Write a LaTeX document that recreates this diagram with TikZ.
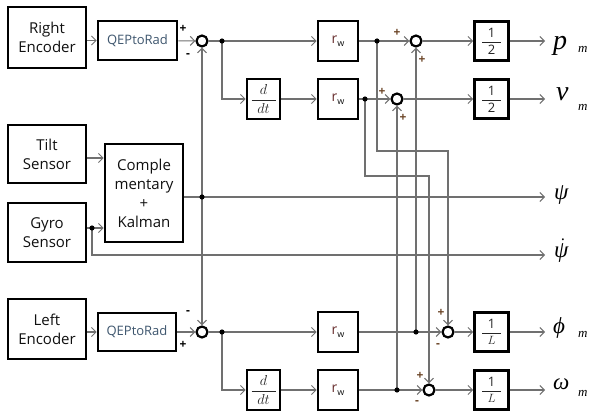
\documentclass[tikz,border=0pt]{standalone}
\usepackage{amsmath}
\usepackage{fontspec}
\setmainfont{Open Sans}
\newfontfamily\tnr{Liberation Serif}
\usetikzlibrary{arrows.meta}
\definecolor{wirec}{HTML}{707070}
\definecolor{qepc}{HTML}{3E566E}
\definecolor{rwc}{HTML}{6A3030}
\definecolor{sgnc}{HTML}{6B4426}
\definecolor{txtc}{HTML}{101010}
\newcommand\fracnum[3]{$\displaystyle\genfrac{}{}{0.7pt}{}{\makebox[#3]{#1}}{\makebox[#3]{#2}}$}
\newcommand\rwtext{\textcolor{rwc}{\fontsize{14}{14}\selectfont r}\raisebox{-3pt}{\fontsize{9}{9}\selectfont w}}
\begin{document}
\begin{tikzpicture}[x=1pt,y=-1pt,
  blk/.style={draw=black, line width=2.6pt, fill=white, inner sep=0pt, align=center,
    text=txtc, font=\fontsize{15}{19}\selectfont},
  qep/.style={text=qepc, font=\fontsize{13}{15}\selectfont},
  gainbox/.style={blk, minimum width=34pt, minimum height=39pt, font=\fontsize{13}{15}\selectfont, text=black!85},
  derbox/.style={blk, minimum width=33pt, minimum height=40pt, font=\fontsize{14}{16}\selectfont, text=black!85},
  rwbox/.style={blk, minimum width=40pt, minimum height=40pt},
  wire/.style={draw=wirec, line width=1.1pt},
  arr/.style={wire, -{Straight Barb[length=4.5pt,width=9pt,line width=1pt]}},
  sumc/.style={circle, draw=black, line width=2.2pt, fill=white, minimum size=11pt, inner sep=0pt},
  sg/.style={inner sep=0pt, font=\fontsize{12}{12}\selectfont\bfseries, text=black},
  sgr/.style={sg, text=sgnc},
  outl/.style={inner sep=0pt, anchor=base west, font=\tnr\itshape\fontsize{28}{28}\selectfont},
  outg/.style={inner sep=0pt, anchor=base west, font=\tnr\itshape\fontsize{23}{23}\selectfont},
  subl/.style={inner sep=0pt, anchor=base west, font=\tnr\itshape\fontsize{13}{13}\selectfont}]
\useasboundingbox (0,0) rectangle (590,414);

% sensor blocks
\node[blk, minimum width=78pt, minimum height=61pt] (RE) at (47,37.5) {Right\\Encoder};
\node[blk, minimum width=78pt, minimum height=58pt] (TS) at (47,154) {Tilt\\Sensor};
\node[blk, minimum width=78pt, minimum height=59pt] (GS) at (47,232.5) {Gyro\\Sensor};
\node[blk, minimum width=78pt, minimum height=60pt] (LE) at (47,329) {Left\\Encoder};
\node[blk, minimum width=78pt, minimum height=98pt] (KF) at (144,193) {Comple\\mentary\\+\\Kalman};
\node[blk, qep, minimum width=79pt, minimum height=39pt] (Q1) at (137.5,40.5) {QEPtoRad};
\node[blk, qep, minimum width=78pt, minimum height=38pt] (Q2) at (137,332) {QEPtoRad};

% sums
\node[sumc] (S1) at (202,41) {};
\node[sumc] (S2) at (202,332) {};
\node[sumc] (SP) at (416,41) {};
\node[sumc] (SV) at (397,99) {};
\node[sumc] (SF) at (448,332) {};
\node[sumc] (SW) at (429,390) {};

% derivative blocks
\node[derbox] (D1) at (263.5,99) {\fracnum{$d$}{$dt$}{24pt}};
\node[derbox] (D2) at (263.5,390) {\fracnum{$d$}{$dt$}{24pt}};

% r_w blocks
\node[rwbox] (R1) at (338,41) {\rwtext};
\node[rwbox] (R2) at (338,99) {\rwtext};
\node[rwbox] (R3) at (338,332) {\rwtext};
\node[rwbox] (R4) at (338,390) {\rwtext};

% gains
\node[gainbox] (G1) at (491.5,41) {\fracnum{1}{2}{19pt}};
\node[gainbox] (G2) at (491.5,99) {\fracnum{1}{2}{19pt}};
\node[gainbox] (G3) at (491.5,332) {\fracnum{1}{$L$}{19pt}};
\node[gainbox] (G4) at (491.5,390) {\fracnum{1}{$L$}{19pt}};

% junctions and ends
\coordinate (J1) at (222,41);
\coordinate (J2) at (222,332);
\coordinate (K) at (202,197);
\coordinate (gd) at (92,228);
\coordinate (JA) at (377,41);
\coordinate (JB) at (365,99);
\coordinate (JC) at (416,332);
\coordinate (JD) at (397,390);
\coordinate (tk) at (KF.west |- 0,158);
\coordinate (oP) at (545,41);
\coordinate (oV) at (545,99);
\coordinate (oPsi) at (545,197);
\coordinate (oPd) at (545,255);
\coordinate (oF) at (545,332);
\coordinate (oW) at (545,390);

% top encoder path
\draw[arr] (RE.east |- Q1) -- (Q1);
\draw[arr] (Q1) -- (S1);
\draw[wire] (S1) -- (J1);
\draw[arr] (J1) -- (R1);
\draw[arr] (J1) |- (D1);
\draw[arr] (D1) -- (R2);
\draw[wire] (R1) -- (JA);
\draw[arr] (JA) -- (SP);
\draw[wire] (R2) -- (JB);
\draw[arr] (JB) -- (SV);
\draw[arr] (SP) -- (G1);
\draw[arr] (G1) -- (oP);
\draw[arr] (SV) -- (G2);
\draw[arr] (G2) -- (oV);

% tilt estimation
\draw[arr] (TS.east |- tk) -- (tk);
\draw[arr] (GS.east |- gd) -- (KF.west |- gd);
\draw[arr] (gd) |- (oPd);
\draw[wire] (KF.east |- K) -- (K);
\draw[arr] (K) -- (oPsi);
\draw[arr] (K) -- (S1);
\draw[arr] (K) -- (S2);

% bottom encoder path
\draw[arr] (LE.east |- Q2) -- (Q2);
\draw[arr] (Q2) -- (S2);
\draw[wire] (S2) -- (J2);
\draw[arr] (J2) -- (R3);
\draw[arr] (J2) |- (D2);
\draw[arr] (D2) -- (R4);
\draw[wire] (R3) -- (JC);
\draw[arr] (JC) -- (SF);
\draw[wire] (R4) -- (JD);
\draw[arr] (JD) -- (SW);
\draw[arr] (SF) -- (G3);
\draw[arr] (G3) -- (oF);
\draw[arr] (SW) -- (G4);
\draw[arr] (G4) -- (oW);

% cross connections
\draw[arr] (JC) -- (SP);
\draw[arr] (JD) -- (SV);
\draw[arr] (JA) -- (JA |- 0,151) -| (SF);
\draw[arr] (JB) -- (JB |- 0,176) -| (SW);

% dots
\foreach \j in {J1,J2,K,gd,JA,JB,JC,JD} \fill[black] (\j) circle (2.6pt);

% signs
\node[sg] (s1a) at (183,29) {+};
\node[sg] (s1b) at (188,56) {-};
\node[sg] (s2a) at (188,313) {-};
\node[sg] (s2b) at (183,345) {+};
\node[sgr] (spa) at (397,33) {+};
\node[sgr] (spb) at (422,60) {+};
\node[sgr] (sva) at (382,92) {+};
\node[sgr] (svb) at (403,118) {+};
\node[sgr] (sfa) at (441,313) {+};
\node[sgr] (sfb) at (438,346) {-};
\node[sgr] (swa) at (420,376) {+};
\node[sgr] (swb) at (417,403) {-};

% outputs
\node[outl] (Lp) at (553,50) {p};
\node[subl] (Lpm) at (578,53) {m};
\node[outl] (Lv) at (556,101) {v};
\node[subl] (Lvm) at (578,111) {m};
\node[outg] (Lpsi) at (554,200) {ψ};
\node[outg] (Lpsid) at (554,258) {ψ\llap{\raisebox{17pt}{\fontsize{16}{16}\selectfont.}\hspace{3pt}}};
\node[outg] (Lphi) at (553,334) {ϕ};
\node[subl] (Lphim) at (578,338) {m};
\node[outg] (Lw) at (553,390) {ω};
\node[subl] (Lwm) at (578,397) {m};
\end{tikzpicture}
\end{document}
